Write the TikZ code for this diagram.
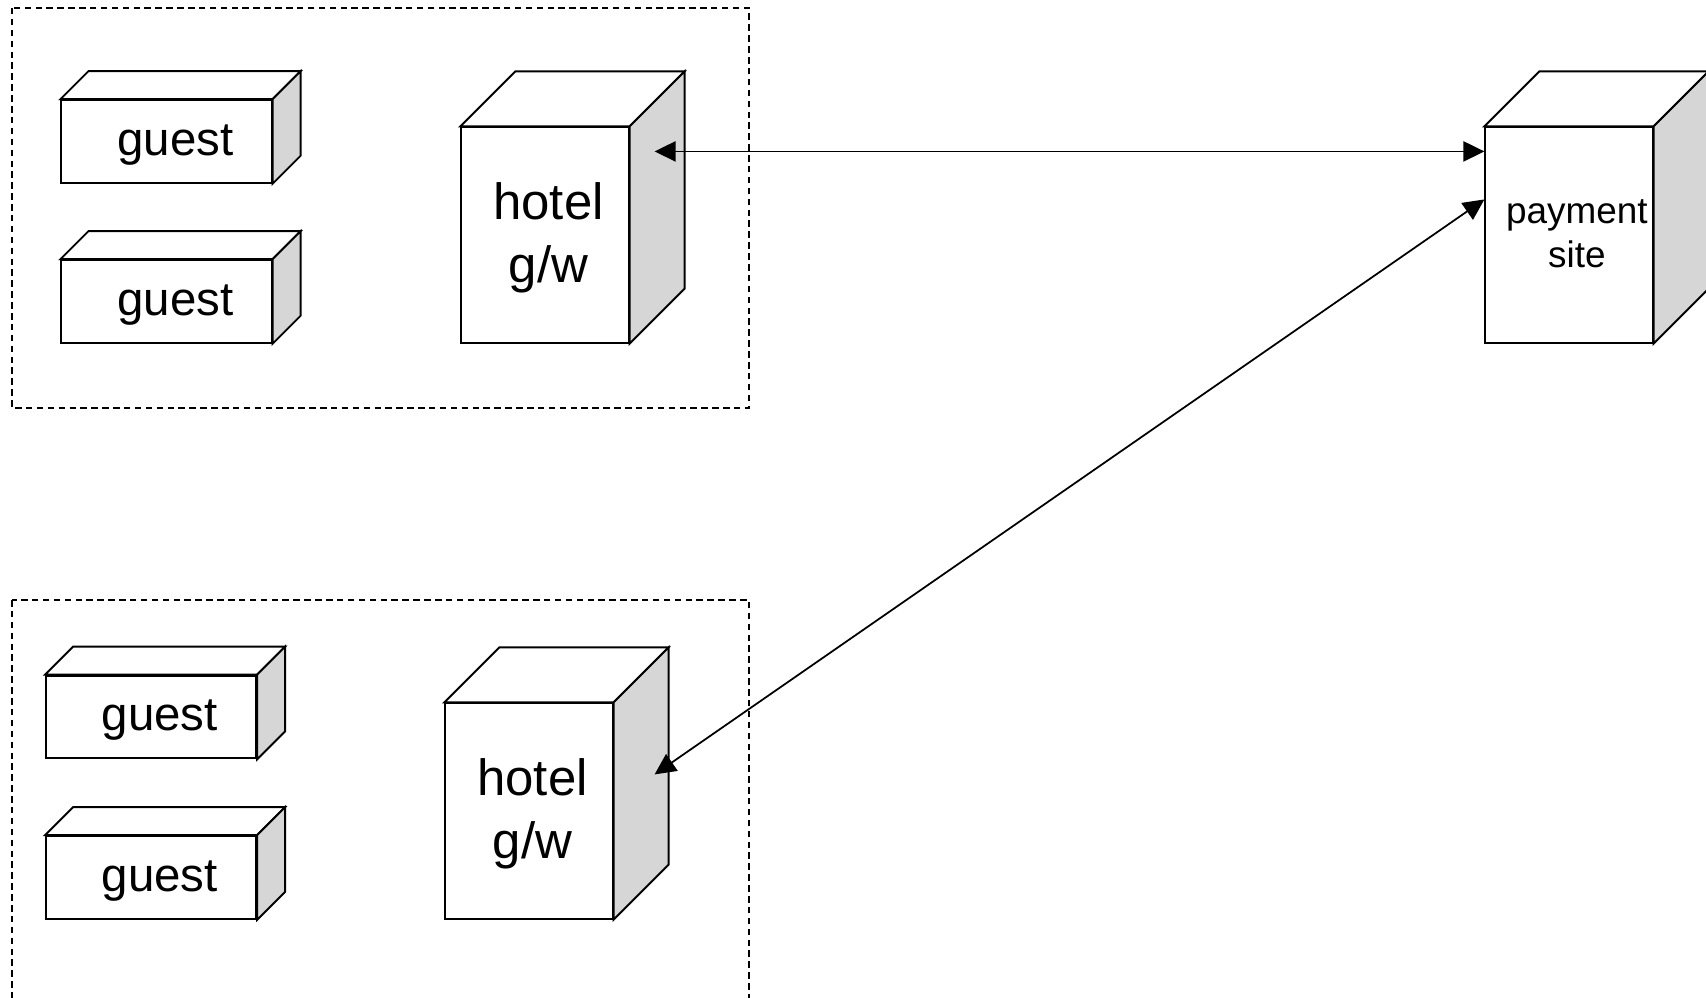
\documentclass[tikz,border=0pt]{standalone}
\usepackage{fontspec}
\setmainfont{Liberation Sans}
\usetikzlibrary{arrows.meta,calc}
\definecolor{sidegray}{HTML}{D6D6D6}
\newcommand{\boxtext}[2]{\raisebox{#1}[\height][\depth]{\begin{tabular}{@{}c@{}}#2\end{tabular}}}
\begin{document}
\begin{tikzpicture}[x=0.02cm,y=-0.02cm,
  front/.style={draw,line width=1.1pt,fill=white,inner sep=0pt,align=center},
  guestbox/.style={front,minimum width=119.6pt,minimum height=47.1pt,font=\fontsize{27}{32}\selectfont},
  hotelbox/.style={front,minimum width=95.2pt,minimum height=122.5pt,font=\fontsize{29}{36}\selectfont},
  paybox/.style={front,minimum width=95.2pt,minimum height=122.5pt,font=\fontsize{21}{25}\selectfont},
  facetop/.style={draw,line width=1.1pt,fill=white,line join=miter},
  faceside/.style={draw,line width=1.1pt,fill=sidegray,line join=miter},
  group/.style={draw,line width=0.85pt,dash pattern=on 3.7pt off 2.5pt},
  link/.style={line width=1pt,{Triangle[length=12pt,width=11.5pt]}-{Triangle[length=12pt,width=11.5pt]}}
]
\useasboundingbox (0,0) rectangle (1706,997);
\clip (0,0) rectangle (1706,997);
\fill[white] (0,0) rectangle (1706,997);

% groups
\draw[group] (12,8) rectangle (749,408);
\draw[group] (12,600) rectangle (749,1020);

% front faces
\node[guestbox] (g1) at (166.5,141.5) {\hspace*{10pt}\raisebox{-2pt}[\height][\depth]{guest}};
\node[guestbox] (g2) at (166.5,301.5) {\hspace*{10pt}\raisebox{-2pt}[\height][\depth]{guest}};
\node[guestbox] (g3) at (151,717) {\hspace*{10pt}\raisebox{-2pt}[\height][\depth]{guest}};
\node[guestbox] (g4) at (151,877.5) {\hspace*{10pt}\raisebox{-2pt}[\height][\depth]{guest}};
\node[hotelbox] (h1) at (545,235) {\hspace*{4pt}\boxtext{-2pt}{hotel\\g/w}};
\node[hotelbox] (h2) at (529,811) {\hspace*{4pt}\boxtext{-2pt}{hotel\\g/w}};
\node[paybox] (pay) at (1569,235) {\hspace*{9pt}\boxtext{-1pt}{payment\\site}};

% 3D faces
\foreach \n/\d in {g1/28,g2/28,g3/28,g4/28,h1/55,h2/55,pay/55}{
  \draw[facetop] (\n.north west) -- ++(\d,-\d) -- ($(\n.north east)+(\d,-\d)$) -- (\n.north east) -- cycle;
  \draw[faceside] (\n.north east) -- ++(\d,-\d) -- ($(\n.south east)+(\d,-\d)$) -- (\n.south east) -- cycle;
}

% connector ends
\coordinate (h1p) at ($(h1.north east)+(25,25)$);
\coordinate (h2p) at ($(h2.north east)+(41,72)$);
\coordinate (p2) at ($(pay.north west)+(0,73)$);

\draw[link] (h1p) -- (pay.west |- h1p);
\draw[link] (h2p) -- (p2);
\end{tikzpicture}
\end{document}
